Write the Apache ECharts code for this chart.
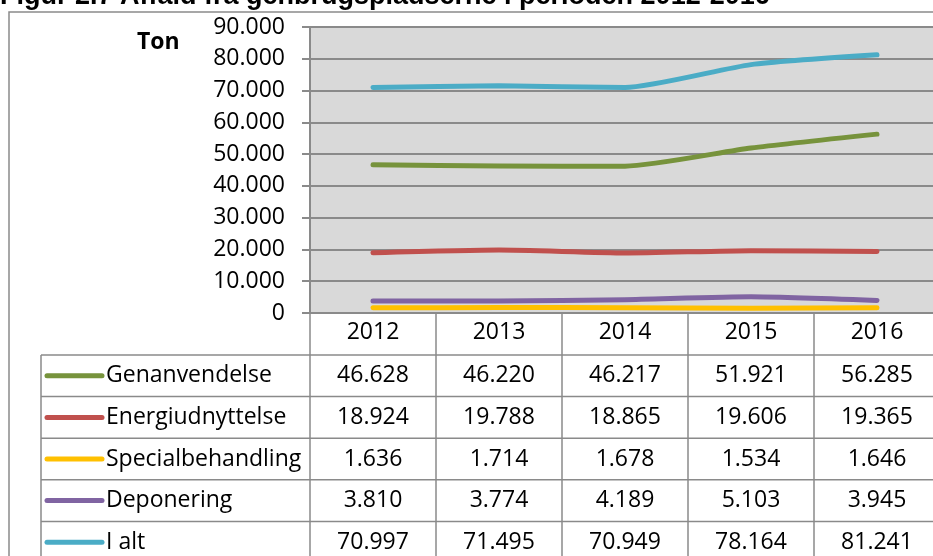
<!DOCTYPE html>
<html>
<head>
<meta charset="UTF-8">
<title>Affald fra genbrugspladserne</title>
<script src="https://cdn.jsdelivr.net/npm/echarts@6/dist/echarts.min.js"></script>
<style>
  html, body { margin:0; padding:0; background:#ffffff; }
  #container { width:933px; height:556px; }
</style>
</head>
<body>
<div id="container"></div>
<script type="text/javascript">

var years = ['2012', '2013', '2014', '2015', '2016'];
var seriesNames = ['Genanvendelse', 'Energiudnyttelse', 'Specialbehandling', 'Deponering', 'I alt'];
var genanvendelse = [46628, 46220, 46217, 51921, 56285];
var energiudnyttelse = [18924, 19788, 18865, 19606, 19365];
var specialbehandling = [1636, 1714, 1678, 1534, 1646];
var deponering = [3810, 3774, 4189, 5103, 3945];
var iAlt = [70997, 71495, 70949, 78164, 81241];
var yTicks = [0, 10000, 20000, 30000, 40000, 50000, 60000, 70000, 80000, 90000];

var allValues = [genanvendelse, energiudnyttelse, specialbehandling, deponering, iAlt];
var colorsList = ['#77933C', '#C0504D', '#FFC000', '#8064A2', '#4BACC6'];

var fontName = 'Open Sans';
var fontSize = 23;
var gridColor = '#8a8a8a';

// dansk tusindtalsseparator
function fmt(v) {
	var s = String(Math.round(v));
	return s.replace(/\B(?=(\d{3})+(?!\d))/g, '.');
}

var dom = document.getElementById("container");
var myChart = echarts.init(dom, null, { renderer: 'canvas' });

var option = {
	animation: false,
	textStyle: { fontFamily: fontName },
	color: colorsList,
	grid: { left: 310, top: 27, width: 630, height: 286, outerBoundsMode: 'none', containLabel: false,
		show: true, backgroundColor: '#D9D9D9', borderWidth: 0 },
	xAxis: {
		type: 'category',
		data: years,
		boundaryGap: true,
		axisLine: { lineStyle: { color: gridColor, width: 2 } },
		axisTick: { show: false },
		axisLabel: { color: '#000', fontSize: fontSize, margin: 8, fontFamily: fontName }
	},
	yAxis: {
		type: 'value',
		min: yTicks[0],
		max: yTicks[yTicks.length - 1],
		interval: 10000,
		axisLine: { show: true, lineStyle: { color: gridColor, width: 2 } },
		axisTick: { show: true, length: 8, lineStyle: { color: gridColor, width: 2 } },
		splitLine: { lineStyle: { color: gridColor, width: 2 } },
		axisLabel: { color: '#000', fontSize: fontSize, margin: 25, fontFamily: fontName, formatter: fmt }
	},
	series: []
};

for (var i = 0; i < seriesNames.length; i++) {
	option.series.push({
		name: seriesNames[i],
		type: 'line',
		data: allValues[i],
		smooth: 0.2,
		symbol: 'none',
		lineStyle: { width: 5, color: colorsList[i], cap: 'round', join: 'round' }
	});
}

myChart.setOption(option, true);

// datatabel under grafen
var centers = [];
for (var i = 0; i < years.length; i++) {
	centers.push(myChart.convertToPixel({ xAxisIndex: 0 }, i));
}
var band = centers[1] - centers[0];
var gridLeft = centers[0] - band / 2;
var axisY = myChart.convertToPixel({ yAxisIndex: 0 }, 0);
var tableLeft = 41;
var tableTop = 355;
var rowH = 41.6;
var bottomY = 600;
var lineStyle = { stroke: gridColor, lineWidth: 1.5 };
var cellFont = fontSize + 'px "Open Sans"';

var elements = [];

// titel (beskaaret i toppen)
elements.push({
	type: 'text', left: 0, top: -17,
	style: { text: 'Figur 2.7 Affald fra genbrugspladserne i perioden 2012-2016', fill: '#000',
		font: 'bold 27px "Liberation Sans", Arial, sans-serif' }
});
// ramme
elements.push({ type: 'rect', shape: { x: 9, y: 12, width: 1000, height: 700 },
	style: { fill: 'none', stroke: gridColor, lineWidth: 1.5 }, z: -1 });
// Ton
elements.push({ type: 'text', x: 137, y: 42,
	style: { text: 'Ton', fill: '#000', font: 'bold 23px "Open Sans"', verticalAlign: 'middle' } });

// vandrette linjer
for (var r = 0; r < seriesNames.length; r++) {
	var yy = tableTop + r * rowH;
	elements.push({ type: 'line', shape: { x1: tableLeft, y1: yy, x2: 1000, y2: yy }, style: lineStyle });
}
// lodrette linjer
elements.push({ type: 'line', shape: { x1: tableLeft, y1: tableTop, x2: tableLeft, y2: bottomY }, style: lineStyle });
for (var c = 0; c <= years.length; c++) {
	var xx = gridLeft + c * band;
	elements.push({ type: 'line', shape: { x1: xx, y1: axisY, x2: xx, y2: bottomY }, style: lineStyle });
}
// rækker
for (var r = 0; r < seriesNames.length; r++) {
	var cy = tableTop + r * rowH + rowH / 2;
	elements.push({ type: 'line', shape: { x1: 47, y1: cy, x2: 102, y2: cy },
		style: { stroke: colorsList[r], lineWidth: 5, lineCap: 'round' } });
	elements.push({ type: 'text', x: 106, y: cy,
		style: { text: seriesNames[r], fill: '#000', font: cellFont, verticalAlign: 'middle' } });
	for (var c = 0; c < years.length; c++) {
		elements.push({ type: 'text', x: centers[c], y: cy,
			style: { text: fmt(allValues[r][c]), fill: '#000', font: cellFont, align: 'center', verticalAlign: 'middle' } });
	}
}

myChart.setOption({ graphic: { elements: elements } });

</script>
</body>
</html>
